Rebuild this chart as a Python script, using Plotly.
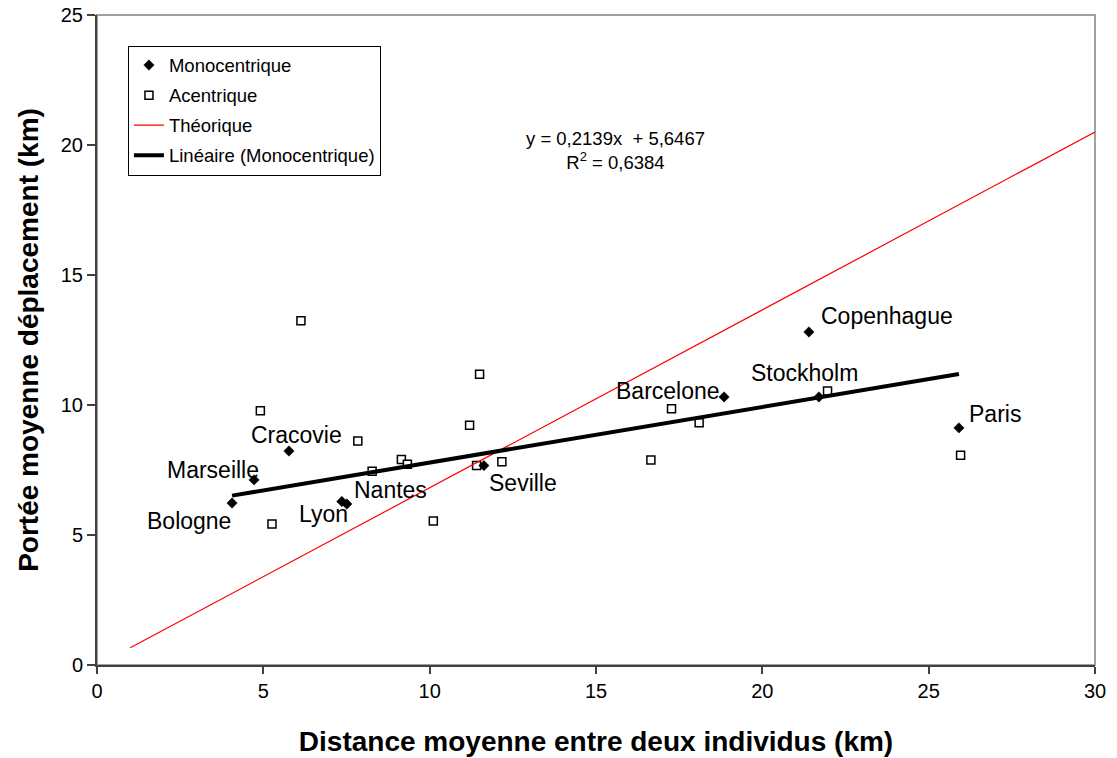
import plotly.graph_objects as go

# --- Data ---
mono_cities = ["Bologne", "Marseille", "Cracovie", "Lyon", "Nantes", "Seville",
               "Barcelone", "Copenhague", "Stockholm", "Paris"]
mono_x = [4.06, 4.72, 5.77, 7.36, 7.51, 11.63, 18.85, 21.40, 21.70, 25.91]
mono_y = [6.23, 7.12, 8.23, 6.29, 6.19, 7.67, 10.31, 12.81, 10.31, 9.12]

acen_x = [6.13, 11.50, 4.91, 11.20, 7.84, 9.15, 9.33, 8.27, 11.41, 12.17,
          5.26, 10.11, 17.27, 18.10, 16.65, 21.96, 25.96]
acen_y = [13.24, 11.18, 9.78, 9.22, 8.62, 7.90, 7.72, 7.45, 7.67, 7.82,
          5.42, 5.54, 9.86, 9.32, 7.88, 10.54, 8.07]

theo_x = [1, 30]
theo_y = [0.66, 20.5]

trend_slope = 0.2139
trend_intercept = 5.6467
trend_r2 = 0.6384

x_ticks = [0, 5, 10, 15, 20, 25, 30]
y_ticks = [0, 5, 10, 15, 20, 25]

# label placement: (anchor, x shift px, y shift px) relative to the point
label_place = {
    "Bologne": ("right", 1, -18), "Marseille": ("right", 7, 10),
    "Cracovie": ("center", 8, 16), "Lyon": ("right", 8, -13),
    "Nantes": ("left", 5, 14), "Seville": ("left", 3, -17),
    "Barcelone": ("right", -2, 6), "Copenhague": ("left", 10, 16),
    "Stockholm": ("center", -14, 24), "Paris": ("left", 8, 14),
}

FONT = "Liberation Sans, Arial, sans-serif"

trend_x = [min(mono_x), max(mono_x)]
trend_y = [trend_slope * v + trend_intercept for v in trend_x]

fig = go.Figure()

fig.add_trace(go.Scatter(
    x=acen_x, y=acen_y, mode="markers", name="Acentrique",
    legendgroup="b", legendrank=2,
    marker=dict(symbol="square", size=8, color="white",
                line=dict(color="black", width=1.5)),
))
fig.add_trace(go.Scatter(
    x=mono_x, y=mono_y, mode="markers", name="Monocentrique",
    legendgroup="a", legendrank=1,
    marker=dict(symbol="diamond", size=8, color="black",
                line=dict(color="black", width=0.5)),
))
fig.add_trace(go.Scatter(
    x=theo_x, y=theo_y, mode="lines", name="Théorique",
    legendgroup="c", legendrank=3,
    line=dict(color="red", width=1.2),
))
fig.add_trace(go.Scatter(
    x=trend_x, y=trend_y, mode="lines", name="Linéaire (Monocentrique)",
    legendgroup="d", legendrank=4,
    line=dict(color="black", width=4),
))

annotations = []
for city, xv, yv in zip(mono_cities, mono_x, mono_y):
    anchor, dx, dy = label_place[city]
    annotations.append(dict(
        x=xv, y=yv, xref="x", yref="y", text=city, showarrow=False,
        xanchor=anchor, yanchor="middle", xshift=dx, yshift=dy,
        font=dict(family=FONT, size=23, color="black"),
    ))

annotations.append(dict(
    x=15.6, y=19.8, xref="x", yref="y", showarrow=False,
    text=(f"y = 0,2139x  + 5,6467<br>R<sup>2</sup> = 0,6384"),
    xanchor="center", yanchor="middle", align="center",
    font=dict(family=FONT, size=18.5, color="black"),
))

# the page body adds an 8px offset; the figure is sized to end at the window edge
fig.update_layout(
    width=1109, height=750,
    margin=dict(l=89, r=22, t=7, b=93),
    paper_bgcolor="white", plot_bgcolor="white",
    font=dict(family=FONT, color="black"),
    showlegend=True,
    legend=dict(
        x=0.031, y=0.953, xanchor="left", yanchor="top",
        bgcolor="white", bordercolor="black", borderwidth=1,
        font=dict(family=FONT, size=18.5, color="black"),
        tracegroupgap=3,
    ),
    annotations=annotations,
    shapes=[dict(type="rect", xref="paper", yref="paper", x0=0, y0=0, x1=1, y1=1,
                 line=dict(color="#a0a0a0", width=2), layer="below")],
)

fig.update_xaxes(
    range=[0, 30], tickvals=x_ticks, ticktext=[str(v) for v in x_ticks],
    automargin=False, ticklabeloverflow="allow",
    showgrid=False, zeroline=False, showline=True, linecolor="#404040", linewidth=2,
    ticks="outside", ticklen=7, tickwidth=1.5, tickcolor="#404040",
    tickfont=dict(family=FONT, size=20, color="black"),
    title=dict(text="<b>Distance moyenne entre deux individus (km)</b>",
               font=dict(family=FONT, size=28, color="black"), standoff=30),
)
fig.update_yaxes(
    range=[0, 25], tickvals=y_ticks, ticktext=[str(v) for v in y_ticks],
    automargin=False, ticklabeloverflow="allow",
    showgrid=False, zeroline=False, showline=True, linecolor="#404040", linewidth=2,
    ticks="outside", ticklen=8, tickwidth=1.5, tickcolor="#404040",
    tickfont=dict(family=FONT, size=20, color="black"),
    title=dict(text="<b>Portée moyenne déplacement (km)</b>",
               font=dict(family=FONT, size=28, color="black"), standoff=14),
)

fig.write_html("out.html")
